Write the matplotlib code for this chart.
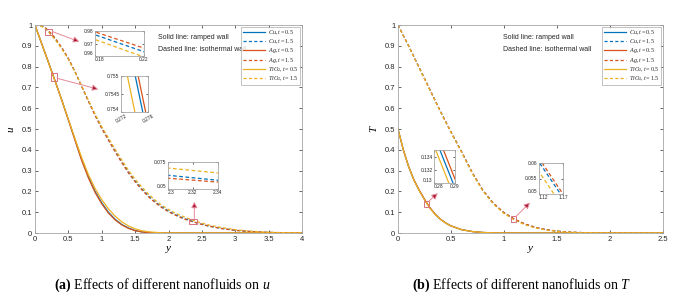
import numpy as np
import matplotlib
matplotlib.use('Agg')
import matplotlib.pyplot as plt
from matplotlib.patches import Rectangle

plt.rcParams['font.family'] = ['Liberation Sans', 'DejaVu Sans']
plt.rcParams['mathtext.fontset'] = 'custom'
plt.rcParams['mathtext.rm'] = 'Liberation Serif'
plt.rcParams['mathtext.it'] = 'Liberation Serif:italic'
plt.rcParams['mathtext.bf'] = 'Liberation Serif:bold'

# ---- data: velocity u (panel a) ----
y_u_ramp = [0, 0.1, 0.2, 0.3, 0.4, 0.5, 0.6, 0.7, 0.8, 0.9, 1.0, 1.1, 1.2, 1.3, 1.4, 1.5, 1.6, 1.7, 1.8, 1.9, 2.0, 4.0]
u_cu_ramp = [1.0, 0.91, 0.8217, 0.7317, 0.64, 0.545, 0.448, 0.352, 0.27, 0.2, 0.145, 0.1, 0.066, 0.041, 0.024, 0.012, 0.0055, 0.0022, 0.0008, 0.0002, 0, 0]
u_ag_ramp = [1.0, 0.9103, 0.82209, 0.73209, 0.6395, 0.543, 0.445, 0.348, 0.265, 0.195, 0.14, 0.096, 0.063, 0.039, 0.022, 0.011, 0.005, 0.002, 0.0007, 0.0002, 0, 0]
u_ti_ramp = [1.0, 0.9097, 0.82065, 0.73065, 0.64, 0.547, 0.453, 0.362, 0.281, 0.214, 0.16, 0.116, 0.081, 0.054, 0.034, 0.02, 0.011, 0.006, 0.003, 0.0012, 0.0004, 0]

y_u_iso = [0, 0.1, 0.15, 0.25, 0.3, 0.4, 0.5, 0.6, 0.7, 0.8, 0.9, 1.0, 1.1, 1.2, 1.3, 1.4, 1.5, 1.6, 1.7, 1.8,
           1.9, 2.0, 2.1, 2.2, 2.3, 2.4, 2.5, 2.6, 2.8, 3.0, 3.2, 3.4, 3.6, 3.8, 4.0]
u_cu_iso = [1.0, 0.995, 0.9872, 0.9532, 0.935, 0.89, 0.838, 0.775, 0.705, 0.635, 0.568, 0.505, 0.45, 0.395, 0.342, 0.293, 0.25, 0.212, 0.178, 0.15,
            0.126, 0.106, 0.089, 0.0745, 0.0627, 0.0512, 0.042, 0.034, 0.022, 0.013, 0.008, 0.004, 0.002, 0.0008, 0.0003]
u_ag_iso = [1.0, 0.996, 0.98905, 0.95655, 0.938, 0.892, 0.839, 0.775, 0.704, 0.633, 0.565, 0.502, 0.446, 0.391, 0.338, 0.289, 0.246, 0.208, 0.174, 0.146,
            0.122, 0.102, 0.086, 0.072, 0.060, 0.0510, 0.041, 0.033, 0.021, 0.0125, 0.0075, 0.004, 0.0019, 0.0008, 0.0003]
u_ti_iso = [1.0, 0.993, 0.9837, 0.9487, 0.93, 0.886, 0.835, 0.774, 0.706, 0.638, 0.572, 0.511, 0.457, 0.403, 0.351, 0.302, 0.259, 0.221, 0.187, 0.158,
            0.133, 0.113, 0.096, 0.082, 0.0694, 0.058, 0.048, 0.039, 0.026, 0.016, 0.0095, 0.0052, 0.0027, 0.0012, 0.0005]

# ---- data: temperature T (panel b) ----
y_T_ramp = [0, 0.05, 0.1, 0.15, 0.2, 0.25, 0.3, 0.35, 0.4, 0.45, 0.5, 0.6, 0.7, 0.8, 0.9, 1.0, 1.2, 2.5]
T_cu_ramp = [0.5, 0.4, 0.32, 0.255, 0.205, 0.16124, 0.12124, 0.09, 0.066, 0.048, 0.034, 0.016, 0.007, 0.0025, 0.0008, 0.0002, 0, 0]
T_ag_ramp = [0.5, 0.4, 0.32, 0.2555, 0.206, 0.1626, 0.1226, 0.091, 0.0665, 0.0483, 0.0342, 0.0161, 0.007, 0.0025, 0.0008, 0.0002, 0, 0]
T_ti_ramp = [0.5, 0.4, 0.319, 0.254, 0.204, 0.15964, 0.11964, 0.089, 0.0655, 0.0477, 0.0338, 0.0159, 0.007, 0.0025, 0.0008, 0.0002, 0, 0]

y_T_iso = [0, 0.1, 0.2, 0.3, 0.4, 0.5, 0.6, 0.7, 0.8, 0.9, 1.0, 1.1, 1.2, 1.3, 1.4, 1.5, 1.6, 1.7, 1.8, 2.0, 2.5]
T_cu_iso = [1.0, 0.9, 0.795, 0.69, 0.585, 0.485, 0.39, 0.29, 0.205, 0.142, 0.097, 0.0649, 0.0419, 0.026, 0.0155, 0.0088, 0.0047, 0.0024, 0.0011, 0.0002, 0]
T_ag_iso = [1.0, 0.9, 0.795, 0.69, 0.585, 0.486, 0.391, 0.291, 0.206, 0.143, 0.098, 0.0661, 0.0431, 0.027, 0.016, 0.0091, 0.0049, 0.0025, 0.0011, 0.0002, 0]
T_ti_iso = [1.0, 0.899, 0.793, 0.688, 0.583, 0.483, 0.388, 0.287, 0.202, 0.139, 0.094, 0.0618, 0.0388, 0.024, 0.0142, 0.0080, 0.0043, 0.0022, 0.0010, 0.0002, 0]

labels = [r'$Cu, t=0.5$', r'$Cu, t=1.5$', r'$Ag, t=0.5$', r'$Ag, t=1.5$', r'$TiO_2, t=0.5$', r'$TiO_2, t=1.5$']
c_blue, c_red, c_yel = '#0072BD', '#D95319', '#EDB120'
edge = '#a6a6a6'
tick_c = '#262626'

W, H = 690, 301


def px(x, y, w, h):
    return [x / W, 1 - (y + h) / H, w / W, h / H]


def style(ax, fs=5.5):
    for s in ax.spines.values():
        s.set_color(edge)
        s.set_linewidth(0.6)
    ax.tick_params(direction='in', top=True, right=True, labelsize=fs, colors=tick_c,
                   length=2.5, width=0.5, pad=2)
    for t in ax.get_xticklabels() + ax.get_yticklabels():
        t.set_color(tick_c)


def draw_all(ax, ramp, iso, lw=0.9, dash=(0, (3, 2))):
    yr, cu, ag, ti = ramp
    yi, cui, agi, tii = iso
    h = []
    h += ax.plot(yr, cu, color=c_blue, lw=lw, label=labels[0])
    h += ax.plot(yi, cui, color=c_blue, lw=lw, ls=dash, label=labels[1])
    h += ax.plot(yr, ag, color=c_red, lw=lw, label=labels[2])
    h += ax.plot(yi, agi, color=c_red, lw=lw, ls=dash, label=labels[3])
    h += ax.plot(yr, ti, color=c_yel, lw=lw, label=labels[4])
    h += ax.plot(yi, tii, color=c_yel, lw=lw, ls=dash, label=labels[5])
    return h


def inset(fig, rect, ramp, iso, xlim, ylim, xt, xtl, yt, ytl, rot=0):
    a = fig.add_axes(px(*rect))
    draw_all(a, ramp, iso, lw=0.9)
    a.set_xlim(xlim)
    a.set_ylim(ylim)
    a.set_xticks(xt)
    a.set_xticklabels(xtl, rotation=rot)
    a.set_yticks(yt)
    a.set_yticklabels(ytl)
    style(a, fs=3.5)
    a.tick_params(length=1.5, pad=1)
    # keep the lowest y label clear of the x labels
    a.get_yticklabels()[0].set_va('bottom')
    if rot == 0:
        a.get_xticklabels()[0].set_ha('left')
    return a


def marker(ax, x0, x1, y0, y1, ax_from, ax_to):
    ax.add_patch(Rectangle((x0, y0), x1 - x0, y1 - y0, fill=False, ec='#d9707f', lw=0.7, zorder=5))
    ax.annotate('', xy=ax_to, xytext=ax_from,
                arrowprops=dict(arrowstyle='-|>,head_length=0.35,head_width=0.18',
                                ec='#e58a99', fc='#a3122f', lw=0.7, shrinkA=0, shrinkB=0), zorder=6)


def legend(ax, h):
    lg = ax.legend(handles=h, loc='upper right', fontsize=4.4, frameon=True, fancybox=False,
                   edgecolor=edge, handlelength=3.6, labelspacing=0.08, borderpad=0.3,
                   handletextpad=0.5, borderaxespad=0.3)
    lg.get_frame().set_linewidth(0.6)
    for t in lg.get_texts():
        t.set_color(tick_c)


fig = plt.figure(figsize=(W / 100, H / 100), dpi=100)

ramp_u = (y_u_ramp, u_cu_ramp, u_ag_ramp, u_ti_ramp)
iso_u = (y_u_iso, u_cu_iso, u_ag_iso, u_ti_iso)
ramp_T = (y_T_ramp, T_cu_ramp, T_ag_ramp, T_ti_ramp)
iso_T = (y_T_iso, T_cu_iso, T_ag_iso, T_ti_iso)

# ---- panel (a) ----
ax1 = fig.add_axes(px(35, 25, 267, 208))
h1 = draw_all(ax1, ramp_u, iso_u, dash=(0, (2.5, 1.8)))
ax1.set_xlim(0, 4)
ax1.set_ylim(0, 1)
ax1.set_xticks(np.arange(0, 4.01, 0.5))
ax1.set_xticklabels(['0', '0.5', '1', '1.5', '2', '2.5', '3', '3.5', '4'])
ax1.set_yticks(np.arange(0, 1.01, 0.1))
ax1.set_yticklabels(['0', '0.1', '0.2', '0.3', '0.4', '0.5', '0.6', '0.7', '0.8', '0.9', '1'])
style(ax1)
ax1.set_xlabel(r'$y$', fontsize=8, labelpad=1)
ax1.set_ylabel(r'$u$', fontsize=8, labelpad=4)
legend(ax1, h1)
ax1.text(0.462, 0.94, 'Solid line: ramped wall', transform=ax1.transAxes, fontsize=5.0, color=tick_c, va='center')
ax1.text(0.462, 0.88, 'Dashed line: isothermal wall', transform=ax1.transAxes, fontsize=5.0, color=tick_c, va='center')

marker(ax1, 0.150, 0.259, 0.953, 0.979, (0.262, 0.968), (0.664, 0.920))
marker(ax1, 0.240, 0.325, 0.732, 0.768, (0.33, 0.744), (0.948, 0.691))
marker(ax1, 2.307, 2.422, 0.043, 0.067, (2.387, 0.069), (2.387, 0.150))

inset(fig, (95, 31, 49, 25), ramp_u, iso_u, (0.18, 0.22), (0.96, 0.98),
      [0.18, 0.22], ['0.18', '0.22'], [0.96, 0.97, 0.98], ['0.96', '0.97', '0.98'])
inset(fig, (121, 76, 27, 36), ramp_u, iso_u, (0.272, 0.276), (0.754, 0.755),
      [0.272, 0.276], ['0.272', '0.276'], [0.754, 0.7545, 0.755], ['0.754', '0.7545', '0.755'], rot=30)
inset(fig, (168, 162, 50, 27), ramp_u, iso_u, (2.3, 2.34), (0.05, 0.075),
      [2.3, 2.32, 2.34], ['2.3', '2.32', '2.34'], [0.05, 0.075], ['0.05', '0.075'])

# ---- panel (b) ----
ax2 = fig.add_axes(px(398, 25, 265, 208))
h2 = draw_all(ax2, ramp_T, iso_T, dash=(0, (2.5, 1.8)))
ax2.set_xlim(0, 2.5)
ax2.set_ylim(0, 1)
ax2.set_xticks(np.arange(0, 2.51, 0.5))
ax2.set_xticklabels(['0', '0.5', '1', '1.5', '2', '2.5'])
ax2.set_yticks(np.arange(0, 1.01, 0.1))
ax2.set_yticklabels(['0', '0.1', '0.2', '0.3', '0.4', '0.5', '0.6', '0.7', '0.8', '0.9', '1'])
style(ax2)
ax2.set_xlabel(r'$y$', fontsize=8, labelpad=1)
ax2.set_ylabel(r'$T$', fontsize=8, labelpad=4)
legend(ax2, h2)
ax2.text(0.395, 0.94, 'Solid line: ramped wall', transform=ax2.transAxes, fontsize=5.0, color=tick_c, va='center')
ax2.text(0.395, 0.88, 'Dashed line: isothermal wall', transform=ax2.transAxes, fontsize=5.0, color=tick_c, va='center')

marker(ax2, 0.248, 0.295, 0.124, 0.155, (0.295, 0.155), (0.375, 0.191))
marker(ax2, 1.063, 1.110, 0.051, 0.082, (1.11, 0.078), (1.245, 0.146))

inset(fig, (434, 150, 21, 33), ramp_T, iso_T, (0.28, 0.29), (0.13, 0.135),
      [0.28, 0.29], ['0.28', '0.29'], [0.13, 0.132, 0.134], ['0.13', '0.132', '0.134'])
inset(fig, (539, 163, 24, 31), ramp_T, iso_T, (1.12, 1.17), (0.05, 0.06),
      [1.12, 1.17], ['1.12', '1.17'], [0.05, 0.055, 0.06], ['0.05', '0.055', '0.06'])

# ---- captions ----
fig.text(162 / W, 1 - 285 / H, r'$\mathbf{(a)}$ Effects of different nanofluids on $u$',
         ha='center', va='center', fontsize=10, family='Liberation Serif')
fig.text(522 / W, 1 - 285 / H, r'$\mathbf{(b)}$ Effects of different nanofluids on $T$',
         ha='center', va='center', fontsize=10, family='Liberation Serif')

fig.savefig('out.png', dpi=100)
